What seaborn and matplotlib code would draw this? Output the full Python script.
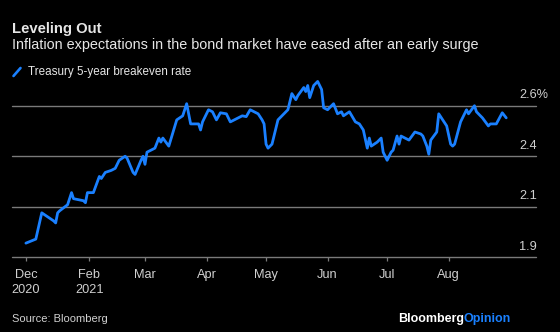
import matplotlib
matplotlib.use("Agg")
import matplotlib.pyplot as plt
import matplotlib.transforms as mtransforms
from matplotlib.lines import Line2D
import seaborn as sns
import pandas as pd
import numpy as np

# ---------------- data ----------------
dates = [
    "2020-12-31", "2021-01-05", "2021-01-08", "2021-01-14", "2021-01-15", "2021-01-16",
    "2021-01-17", "2021-01-21", "2021-01-23", "2021-01-24", "2021-01-29", "2021-01-30",
    "2021-01-31", "2021-02-03", "2021-02-06", "2021-02-07", "2021-02-09", "2021-02-12",
    "2021-02-14", "2021-02-16", "2021-02-19", "2021-02-20", "2021-02-23", "2021-02-24",
    "2021-02-27", "2021-02-28", "2021-03-01", "2021-03-02", "2021-03-06", "2021-03-08",
    "2021-03-09", "2021-03-10", "2021-03-13", "2021-03-17", "2021-03-20", "2021-03-22",
    "2021-03-24", "2021-03-28", "2021-03-29", "2021-03-30", "2021-04-02", "2021-04-04",
    "2021-04-06", "2021-04-08", "2021-04-11", "2021-04-13", "2021-04-15", "2021-04-19",
    "2021-04-21", "2021-04-23", "2021-04-27", "2021-04-29", "2021-04-30", "2021-05-01",
    "2021-05-02", "2021-05-04", "2021-05-07", "2021-05-09", "2021-05-12", "2021-05-14",
    "2021-05-16", "2021-05-17", "2021-05-20", "2021-05-21", "2021-05-22", "2021-05-23",
    "2021-05-25", "2021-05-27", "2021-05-29", "2021-05-30", "2021-06-01", "2021-06-04",
    "2021-06-06", "2021-06-08", "2021-06-09", "2021-06-12", "2021-06-15", "2021-06-17",
    "2021-06-19", "2021-06-21", "2021-06-22", "2021-06-23", "2021-06-26", "2021-06-28",
    "2021-06-29", "2021-07-01", "2021-07-03", "2021-07-04", "2021-07-06", "2021-07-07",
    "2021-07-08", "2021-07-12", "2021-07-15", "2021-07-18", "2021-07-19", "2021-07-21",
    "2021-07-22", "2021-07-23", "2021-07-26", "2021-07-27", "2021-07-31", "2021-08-02",
    "2021-08-03", "2021-08-04", "2021-08-07", "2021-08-10", "2021-08-11", "2021-08-14",
    "2021-08-15", "2021-08-18", "2021-08-21", "2021-08-22", "2021-08-25", "2021-08-28",
    "2021-08-30",
]
breakeven = [
    1.92, 1.94, 2.07, 2.03, 2.02, 2.07,
    2.08, 2.11, 2.17, 2.14, 2.13, 2.12,
    2.17, 2.17, 2.25, 2.24, 2.27, 2.28,
    2.29, 2.33, 2.35, 2.34, 2.27, 2.26,
    2.33, 2.35, 2.31, 2.37, 2.39, 2.44,
    2.42, 2.44, 2.40, 2.53, 2.55, 2.61,
    2.51, 2.51, 2.48, 2.52, 2.58, 2.57,
    2.53, 2.565, 2.56, 2.52, 2.53, 2.55,
    2.546, 2.58, 2.56, 2.53, 2.51, 2.41,
    2.39, 2.41, 2.53, 2.55, 2.58, 2.66,
    2.63, 2.65, 2.69, 2.67, 2.70, 2.64,
    2.70, 2.72, 2.68, 2.59, 2.58, 2.61,
    2.56, 2.57, 2.55, 2.57, 2.52, 2.51,
    2.48, 2.39, 2.44, 2.40, 2.42, 2.44,
    2.37, 2.33, 2.37, 2.38, 2.45, 2.41,
    2.45, 2.43, 2.47, 2.46, 2.45, 2.40,
    2.36, 2.43, 2.47, 2.56, 2.50, 2.41,
    2.40, 2.41, 2.52, 2.58, 2.56, 2.60,
    2.57, 2.54, 2.50, 2.51, 2.51, 2.565,
    2.54,
]
series_name = "Treasury 5-year breakeven rate"

ytick_values = [1.85, 2.10, 2.35, 2.60]
ytick_labels = ["1.9", "2.1", "2.4", "2.6%"]

xtick_dates = ["2020-12-31", "2021-02-01", "2021-03-01", "2021-04-01",
               "2021-05-01", "2021-06-01", "2021-07-01", "2021-08-01"]
xtick_labels = ["Dec\n2020", "Feb\n2021", "Mar", "Apr", "May", "Jun", "Jul", "Aug"]

title = "Leveling Out"
subtitle = "Inflation expectations in the bond market have eased after an early surge"
source = "Source: Bloomberg"

# ---------------- style ----------------
BG = "#000000"
BLUE = "#1a80ff"
GRID = "#7a7a7a"
TXT = "#e6e6e6"
TICKTXT = "#d0d0d0"

sns.set_theme(style="dark", rc={
    "axes.facecolor": BG, "figure.facecolor": BG,
    "axes.edgecolor": BG, "grid.color": GRID,
})
plt.rcParams["font.family"] = ["Liberation Sans", "DejaVu Sans"]

W, H = 560, 332
fig = plt.figure(figsize=(W / 100, H / 100), dpi=100)

def fx(px):
    return px / W

def fy(py):
    return 1 - py / H

ax_left, ax_right, ax_top, ax_bottom = 12, 536, 75.4, 257.3
ax = fig.add_axes([fx(ax_left), fy(ax_bottom), fx(ax_right - ax_left), (ax_bottom - ax_top) / H])

df = pd.DataFrame({"date": pd.to_datetime(dates), "value": breakeven})
sns.lineplot(data=df, x="date", y="value", ax=ax, color=BLUE, linewidth=2.0,
             solid_joinstyle="round", solid_capstyle="round")

ax.set_xlim(pd.Timestamp("2020-12-24"), pd.Timestamp("2021-09-14"))
ax.set_ylim(1.85, 2.75)
ax.set_xlabel("")
ax.set_ylabel("")
for s in ax.spines.values():
    s.set_visible(False)

ax.set_yticks(ytick_values)
ax.set_yticklabels([])
ax.tick_params(axis="y", length=0)
ax.yaxis.grid(True, color=GRID, linewidth=1.0)
ax.xaxis.grid(False)
for gl in ax.get_ygridlines():
    gl.set_clip_on(False)

ax.set_xticks(pd.to_datetime(xtick_dates))
ax.set_xticklabels(xtick_labels, color=TICKTXT, fontsize=9.2, linespacing=1.35)
ax.tick_params(axis="x", length=3.2, width=0.9, color=GRID, pad=5, bottom=True)

# y labels above gridlines, right-aligned
trans = mtransforms.blended_transform_factory(ax.transAxes, ax.transData)
for v, lab in zip(ytick_values, ytick_labels):
    right_px = 548 if lab.endswith("%") else 537
    ax.text(0.0, v, lab, transform=mtransforms.offset_copy(
        trans, fig=fig, x=(right_px - ax_left), y=4.5, units="dots"),
        ha="right", va="bottom", color=TICKTXT, fontsize=9.2)

# titles
fig.text(fx(12), fy(33), title, color=TXT, fontsize=10.7, fontweight="bold", va="baseline")
fig.text(fx(12), fy(49.5), subtitle, color=TXT, fontsize=10.4, va="baseline")

# legend
fig.add_artist(Line2D([fx(13.5), fx(20.5)], [fy(76), fy(68)], color=BLUE, linewidth=1.9,
                      solid_capstyle="round"))
fig.text(fx(28), fy(74.5), series_name, color=TXT, fontsize=8.35, va="baseline")

# footer
fig.text(fx(12), fy(321.5), source, color=TICKTXT, fontsize=8.0, va="baseline")
op = fig.text(fx(511), fy(322), "Opinion", color=BLUE, fontsize=9.0, fontweight="bold",
              ha="right", va="baseline")
fig.canvas.draw()
bb = op.get_window_extent()
fig.text(bb.x0 / W, fy(322), "Bloomberg", color="#ffffff", fontsize=9.0, fontweight="bold",
         ha="right", va="baseline")

fig.savefig("out.png", dpi=100, facecolor=BG)
